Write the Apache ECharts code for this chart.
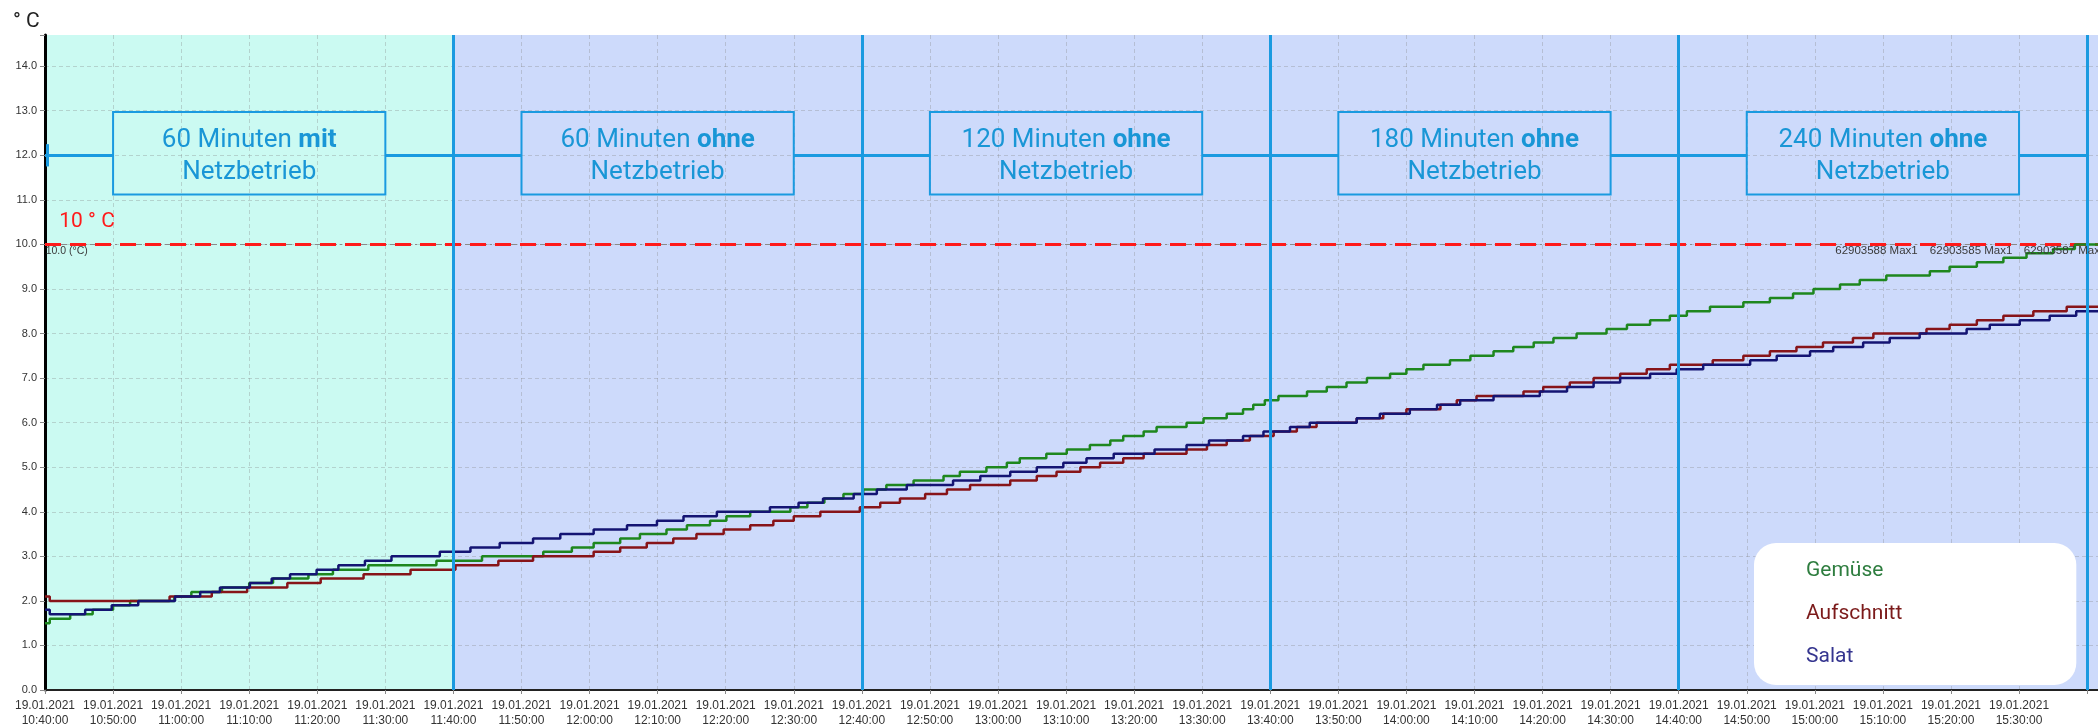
<!DOCTYPE html>
<html>
<head>
<meta charset="utf-8">
<title>Temperaturverlauf 19.01.2021</title>
<script src="https://cdn.jsdelivr.net/npm/echarts@6/dist/echarts.min.js"></script>
<style>
  html, body { margin: 0; padding: 0; background: #ffffff; }
  #chart { width: 2098px; height: 728px; }
</style>
</head>
<body>
<div id="chart"></div>
<script>
// Temperaturverlauf am 19.01.2021 – Zeitachse in Minuten ab 10:40:00
const datum = '19.01.2021';
const startStunde = 10;
const startMinute = 40;
const endeMinuten = 301.6;

const serienNamen = ['Gemüse', 'Aufschnitt', 'Salat'];

// Gemüse: Minuten der Stufenwechsel und Temperatur danach (°C)
const gemueseZeit = [0, 0.7, 3.7, 7, 10, 12.5, 19, 21.5, 26, 30, 33.5, 38.7, 42.3, 47.5, 57.5, 64.2,
  73.2, 77.4, 80.6, 84.5, 87.4, 91.3, 94.3, 97.7, 100.1, 103.6, 109.5, 112, 114.5, 117.3, 120.2,
  123.6, 127.6, 132, 134.4, 138.3, 141.3, 143.2, 147.1, 150.1, 153.5, 156.5, 158.4, 161.4, 163.3,
  167.7, 170.2, 173.6, 176, 177.5, 179.2, 181.2, 185.4, 188.3, 191.2, 194.2, 197.6, 200, 202.5,
  206.4, 209.4, 212.8, 215.7, 218.7, 221.6, 225, 229.4, 232.4, 235.8, 238.7, 241.2, 244.6, 249.5,
  253.4, 256.8, 259.8, 263.7, 266.6, 270.5, 276.9, 279.8, 283.8, 287.7, 291.1, 295, 298.2];
const gemueseWert = [1.5, 1.6, 1.7, 1.8, 1.9, 2.0, 2.1, 2.2, 2.3, 2.4, 2.5, 2.6, 2.7, 2.8, 2.9, 3.0,
  3.1, 3.2, 3.3, 3.4, 3.5, 3.6, 3.7, 3.8, 3.9, 4.0, 4.1, 4.2, 4.3, 4.4, 4.5,
  4.6, 4.7, 4.8, 4.9, 5.0, 5.1, 5.2, 5.3, 5.4, 5.5, 5.6, 5.7, 5.8, 5.9,
  6.0, 6.1, 6.2, 6.3, 6.4, 6.5, 6.6, 6.7, 6.8, 6.9, 7.0, 7.1, 7.2, 7.3,
  7.4, 7.5, 7.6, 7.7, 7.8, 7.9, 8.0, 8.1, 8.2, 8.3, 8.4, 8.5, 8.6, 8.7,
  8.8, 8.9, 9.0, 9.1, 9.2, 9.3, 9.4, 9.5, 9.6, 9.7, 9.8, 9.9, 10.0];

// Aufschnitt
const aufschnittZeit = [0, 0.7, 18.3, 24.5, 29.7, 35.6, 40.5, 46.8, 53.7, 60.3, 66.6, 71.7, 80.6,
  84.5, 88.4, 92.3, 95.7, 99.7, 103.6, 107, 110, 113.9, 119.7, 122.7, 125.6, 129.3, 132.5, 135.9,
  141.8, 145.7, 148.6, 152.1, 155, 158.4, 161.4, 167.7, 170.7, 173.6, 177, 180.5, 183.9, 186.8,
  192.7, 196.6, 200, 205, 207.4, 210.3, 217.2, 220.1, 224, 227.5, 231.4, 235.3, 238.7, 245,
  249.5, 253.4, 257.3, 261.2, 265.6, 268.6, 276.4, 279.8, 283.8, 287.7, 292.1, 297];
const aufschnittWert = [2.1, 2.0, 2.1, 2.2, 2.3, 2.4, 2.5, 2.6, 2.7, 2.8, 2.9, 3.0, 3.1,
  3.2, 3.3, 3.4, 3.5, 3.6, 3.7, 3.8, 3.9, 4.0, 4.1, 4.2, 4.3, 4.4, 4.5, 4.6,
  4.7, 4.8, 4.9, 5.0, 5.1, 5.2, 5.3, 5.4, 5.5, 5.6, 5.7, 5.8, 5.9, 6.0,
  6.1, 6.2, 6.3, 6.4, 6.5, 6.6, 6.7, 6.8, 6.9, 7.0, 7.1, 7.2, 7.3, 7.4,
  7.5, 7.6, 7.7, 7.8, 7.9, 8.0, 8.1, 8.2, 8.3, 8.4, 8.5, 8.6];

// Salat
const salatZeit = [0, 0.7, 5.9, 9.8, 13.7, 19.1, 22.8, 25.7, 30.1, 33.3, 36, 39.9, 43.1, 47, 50.9,
  58, 62.5, 66.8, 71.7, 75.7, 80.6, 85.5, 89.9, 93.8, 98.7, 106.5, 110.7, 114.3, 118.8, 122.2,
  126.6, 133.4, 137.4, 141.8, 145.7, 149.6, 153, 157, 163, 167.7, 171, 176, 179, 182.9, 185.8,
  192.7, 196.1, 200.5, 204.5, 207.9, 212.8, 219.6, 223.6, 227.5, 231.4, 235.8, 239.7, 243.6,
  250.5, 254.4, 259.3, 262.7, 267.1, 271, 275.4, 282.3, 285.7, 290.1, 294.5, 298.4];
const salatWert = [1.8, 1.7, 1.8, 1.9, 2.0, 2.1, 2.2, 2.3, 2.4, 2.5, 2.6, 2.7, 2.8, 2.9, 3.0,
  3.1, 3.2, 3.3, 3.4, 3.5, 3.6, 3.7, 3.8, 3.9, 4.0, 4.1, 4.2, 4.3, 4.4, 4.5,
  4.6, 4.7, 4.8, 4.9, 5.0, 5.1, 5.2, 5.3, 5.4, 5.5, 5.6, 5.7, 5.8, 5.9, 6.0,
  6.1, 6.2, 6.3, 6.4, 6.5, 6.6, 6.7, 6.8, 6.9, 7.0, 7.1, 7.2, 7.3,
  7.4, 7.5, 7.6, 7.7, 7.8, 7.9, 8.0, 8.1, 8.2, 8.3, 8.4, 8.5];

// Versuchsphasen (je 60 Minuten)
const phasenDauer = 60;
const phasenAnfang = ['60 Minuten ', '60 Minuten ', '120 Minuten ', '180 Minuten ', '240 Minuten '];
const phasenFett = ['mit', 'ohne', 'ohne', 'ohne', 'ohne'];
const phasenZeile2 = 'Netzbetrieb';

// Grenzwert und Beschriftungen
const grenzwert = 10;
const grenzTitel = '10 ° C';
const grenzInfo = '10.0 (°C)';
const maxLabels = ['62903588 Max1', '62903585 Max1', '62903587 Max1'];
const einheit = '° C';

const farbeLinie = ['#1e871e', '#871419', '#141473'];
const farbeLegende = ['#2e7d3f', '#7b1a1a', '#35358f'];
const akzent = '#1a9ae0';
const boxText = '#1996d6';
const rasterFarbe = 'rgba(130,130,130,0.32)';

function stufen(zeit, wert) {
  const d = zeit.map((t, i) => [t, wert[i]]);
  d.push([endeMinuten, wert[wert.length - 1]]);
  return d;
}
const pad = n => String(n).padStart(2, '0');
function zeitLabel(v) {
  const r = Math.round(v);
  if (Math.abs(v - r) > 0.01 || r % 10 !== 0 || r > 295) return '';
  const m = startMinute + r;
  return datum + '\n' + pad(startStunde + Math.floor(m / 60)) + ':' + pad(m % 60) + ':00';
}

const reihen = [stufen(gemueseZeit, gemueseWert), stufen(aufschnittZeit, aufschnittWert), stufen(salatZeit, salatWert)];

// Phasen: Trennlinien, Klammerlinie bei 12 °C und Beschriftungskästen
const phasenAnzahl = phasenAnfang.length;
const trennLinien = [];
const klammer = [];
const kaesten = [];
const kastenOben = 12.97, kastenUnten = 11.12, klammerY = 12;
for (let i = 0; i < phasenAnzahl; i++) {
  const a = i * phasenDauer, e = (i + 1) * phasenDauer;
  trennLinien.push({ xAxis: e });
  klammer.push([{ coord: [i === 0 ? a : a - 10, klammerY] }, { coord: [a + 10, klammerY] }]);
  kaesten.push([
    { coord: [a + 10, kastenOben],
      label: { formatter: '{n|' + phasenAnfang[i] + '}{b|' + phasenFett[i] + '}\n{n|' + phasenZeile2 + '}' } },
    { coord: [e - 10, kastenUnten] }
  ]);
}
klammer.push([{ coord: [phasenAnzahl * phasenDauer - 10, klammerY] }, { coord: [phasenAnzahl * phasenDauer, klammerY] }]);
klammer.push([{ coord: [0.4, 11.75] }, { coord: [0.4, 12.25] }]);

const textPunkt = (coord, text, style) => ({
  coord: coord, value: 0,
  label: Object.assign({ show: true, position: 'right', distance: 0, formatter: text }, style)
});
const kleinGrau = { color: '#3a3a3a', fontSize: 11.5, fontFamily: 'Liberation Sans' };
const textPunkte = [
  textPunkt([2.1, 10.5], grenzTitel, { color: '#ff1a1a', fontSize: 21, fontFamily: 'Roboto' }),
  textPunkt([0.1, 9.855], grenzInfo, { color: '#3a3a3a', fontSize: 10.5, fontFamily: 'Liberation Sans' }),
  textPunkt([263.0, 9.855], maxLabels[0], kleinGrau),
  textPunkt([276.9, 9.855], maxLabels[1], kleinGrau),
  textPunkt([290.7, 9.855], maxLabels[2], kleinGrau)
];

const chart = echarts.init(document.getElementById('chart'), null, { renderer: 'canvas' });
chart.setOption({
  animation: false,
  title: {
    text: einheit, left: 8, top: 6,
    textStyle: { fontFamily: 'Roboto', fontSize: 21, fontWeight: 'normal', color: '#222' }
  },
  grid: { left: 45, right: 0, top: 35, bottom: 31.3, containLabel: false },
  xAxis: {
    type: 'value', min: 0, max: endeMinuten, interval: 10, z: 2,
    axisLine: { show: true, onZero: false, lineStyle: { color: '#222', width: 2 } },
    axisTick: { show: true, length: 4, lineStyle: { color: '#888' } },
    axisLabel: {
      formatter: zeitLabel, margin: 8, color: '#333', fontSize: 12, lineHeight: 15,
      fontFamily: 'Liberation Sans', showMaxLabel: false
    },
    splitLine: { show: true, showMaxLine: false, lineStyle: { color: rasterFarbe, type: [4, 3], width: 1 } }
  },
  yAxis: {
    type: 'value', min: 0, max: 14.7, interval: 1, z: 2,
    axisLine: { show: true, onZero: false, lineStyle: { color: '#000', width: 3 } },
    axisTick: { show: true, length: 5, lineStyle: { color: '#888' } },
    axisLabel: {
      formatter: v => Math.abs(v - Math.round(v)) < 1e-6 ? v.toFixed(1) : '',
      margin: 8, color: '#333', fontSize: 11, fontFamily: 'Liberation Sans'
    },
    splitLine: { show: true, showMaxLine: false, lineStyle: { color: rasterFarbe, type: [4, 3], width: 1 } }
  },
  legend: {
    orient: 'vertical', left: 1754, top: 543,
    padding: [17, 174, 17, 22], itemGap: 21, itemWidth: 25, itemHeight: 22,
    backgroundColor: '#ffffff', borderRadius: 22,
    icon: 'rect', itemStyle: { opacity: 0 }, lineStyle: { opacity: 0 },
    selectedMode: false, z: 10,
    textStyle: { fontFamily: 'Roboto', fontSize: 21 },
    data: serienNamen.map((n, i) => ({ name: n, textStyle: { color: farbeLegende[i] } }))
  },
  series: [
    {
      name: 'hintergrund', type: 'line', data: [], silent: true,
      markArea: {
        silent: true, z: 1,
        data: [
          [{ xAxis: 0, itemStyle: { color: '#cbfaf2' } }, { xAxis: phasenDauer }],
          [{ xAxis: phasenDauer, itemStyle: { color: '#cddafb' } }, { xAxis: endeMinuten }]
        ]
      }
    },
    {
      name: 'grenzwert', type: 'line', data: [], silent: true,
      markLine: {
        silent: true, z: 2.5, symbol: 'none', label: { show: false },
        data: [
          { yAxis: grenzwert, lineStyle: { color: '#8a8a8a', width: 1, type: [7, 3, 2, 3] } },
          { yAxis: grenzwert, lineStyle: { color: '#ff1a1a', width: 3, type: [16, 9] } }
        ]
      },
      markPoint: {
        silent: true, z: 5, symbol: 'circle', symbolSize: 0,
        data: textPunkte
      }
    },
    ...serienNamen.map((n, i) => ({
      name: n, type: 'line', step: 'end', z: 3, symbol: 'none', showSymbol: false,
      data: reihen[i],
      color: farbeLinie[i],
      lineStyle: { color: farbeLinie[i], width: 2.5 }
    })),
    {
      name: 'phasen', type: 'line', data: [], silent: true,
      markLine: {
        silent: true, z: 5, symbol: 'none', label: { show: false },
        lineStyle: { color: akzent, width: 3, type: 'solid' },
        data: trennLinien.concat(klammer)
      },
      markArea: {
        silent: true, z: 5,
        itemStyle: { color: 'rgba(0,0,0,0)', borderColor: akzent, borderWidth: 2 },
        label: {
          show: true, position: 'inside', offset: [0, 3],
          rich: {
            n: { fontFamily: 'Roboto', fontSize: 26, color: boxText, lineHeight: 32 },
            b: { fontFamily: 'Roboto', fontSize: 26, fontWeight: 'bold', color: boxText, lineHeight: 32 }
          }
        },
        data: kaesten
      }
    }
  ]
});
</script>
</body>
</html>
